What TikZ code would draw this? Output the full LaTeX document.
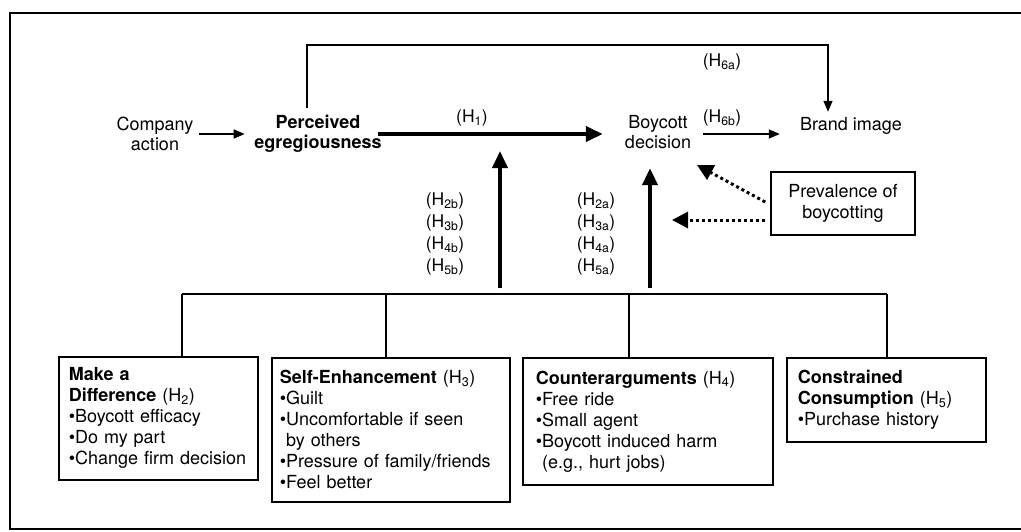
\documentclass[tikz,border=0pt]{standalone}
\usepackage{fontspec}
\setmainfont{TeX Gyre Heros}
\usetikzlibrary{arrows.meta}
\newcommand\hypo[1]{(H\textsubscript{#1})}
\begin{document}
\begin{tikzpicture}[x=1pt,y=-1pt,
  font=\fontsize{18}{20.5}\selectfont,
  txt/.style={inner sep=2pt, align=center},
  lbl/.style={inner sep=0pt, align=center, font=\fontsize{17.5}{22}\selectfont},
  box/.style={draw, line width=1.6pt, anchor=north west, align=left, inner ysep=0pt,
              font=\fontsize{18}{21}\selectfont},
  thin line/.style={line width=1.5pt},
  thinarr/.style={line width=1.5pt, -{Triangle[length=11pt,width=9pt]}},
  thickarr/.style={line width=4pt, -{Triangle[length=17pt,width=15pt]}},
  dotarr/.style={line width=3pt, dash pattern=on 3pt off 3pt, -{Triangle[length=16pt,width=16pt]}}
]
\useasboundingbox (0,0) rectangle (1021,531);
% frame
\draw[line width=2.5pt] (1021,13) -- (10,13) -- (10,529) -- (1021,529);

% main nodes
\node[txt] (comp) at (155,134) {Company\\action};
\node[txt, font=\fontsize{18}{20.5}\selectfont\bfseries] (perc) at (318,134) {Perceived\\egregiousness};
\node[txt] (boy) at (658,132) {Boycott\\decision};
\node[txt] (brand) at (851,126) {Brand image};
\node[draw, line width=1.6pt, minimum width=144pt, minimum height=63pt, align=center, inner sep=2pt] (prev) at (843,203.5) {Prevalence of\\boycotting};

% labels
\node[lbl] (lh1) at (472,118) {\hypo{1}};
\node[lbl] (lh6a) at (722,62) {\hypo{6a}};
\node[lbl] (lh6b) at (722,118) {\hypo{6b}};
\node[lbl] (lhb) at (445,234) {\hypo{2b}\\\hypo{3b}\\\hypo{4b}\\\hypo{5b}};
\node[lbl] (lha) at (596,234) {\hypo{2a}\\\hypo{3a}\\\hypo{4a}\\\hypo{5a}};

% boxes
\node[box, text width=179pt, inner xsep=10pt, minimum height=123pt] (b1) at (58,356)
  {\textbf{Make a}\\\textbf{Difference} \hypo{2}\\•Boycott efficacy\\•Do my part\\•Change firm decision};
\node[box, text width=222pt, inner xsep=8pt, minimum height=144pt] (b2) at (271,357)
  {\textbf{Self-Enhancement} \hypo{3}\\•Guilt\\•Uncomfortable if seen\\\phantom{•}by others\\•Pressure of family/friends\\•Feel better};
\node[box, text width=224pt, inner xsep=13pt, minimum height=127pt] (b3) at (522,357)
  {\textbf{Counterarguments} \hypo{4}\\•Free ride\\•Small agent\\•Boycott induced harm\\\phantom{•}(e.g., hurt jobs)};
\node[box, text width=177pt, inner xsep=11pt, minimum height=84pt] (b4) at (786,357)
  {\textbf{Constrained}\\\textbf{Consumption} \hypo{5}\\•Purchase history};

% coordinates
\coordinate (h6top) at (828,45);
\coordinate (vL) at (500,288);
\coordinate (vR) at (650,288);
\coordinate (br1) at (182,294);
\coordinate (br2) at (386,294);
\coordinate (br3) at (629,294);
\coordinate (br4) at (887,294);
\coordinate (d1) at (697,165);
\coordinate (d2) at (672,220);

% connectors
\draw[thinarr, shorten <=3.5pt, shorten >=7.5pt] (comp.east) -- (comp.east -| perc.west);
\draw[thickarr, shorten <=-5.5pt, shorten >=20pt] (perc.east) -- (perc.east -| boy.west);
\draw[thinarr, shorten <=10pt, shorten >=18pt] ([yshift=-2pt]boy.east) -- ([yshift=-2pt]boy.east -| brand.west);
\draw[thinarr, shorten >=3.5pt] ([xshift=-11pt,yshift=5pt]perc.north) |- (h6top) -- (h6top |- brand.north);

\draw[thickarr, shorten >=17pt] (vL) -- (vL |- perc.east);
\draw[thickarr, shorten >=17pt] (vR) -- (vR |- boy.south);

\draw[thin line] (br1) -- (br4);
\draw[thin line] (br1) -- (br1 |- b1.north);
\draw[thin line] (br2) -- (br2 |- b2.north);
\draw[thin line] (br3) -- (br3 |- b3.north);
\draw[thin line] (br4) -- (br4 |- b4.north);

\draw[dotarr] ([xshift=-5pt,yshift=1.5pt]prev.west) -- (d1);
\draw[dotarr] ([xshift=-5pt,yshift=-16.5pt]prev.west) -- (d2);
\end{tikzpicture}
\end{document}
